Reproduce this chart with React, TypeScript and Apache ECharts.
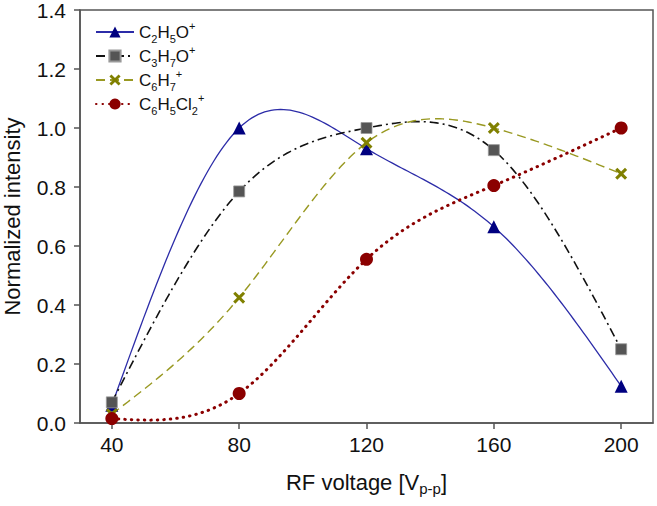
import React, { useEffect, useRef } from "react";
import * as echarts from "echarts";

const voltages = [40, 80, 120, 160, 200];
const c2h5o = [0.06, 1.0, 0.93, 0.665, 0.125];
const c3h7o = [0.07, 0.785, 1.0, 0.925, 0.25];
const c6h7 = [0.03, 0.425, 0.95, 1.0, 0.845];
const c6h5cl2 = [0.015, 0.1, 0.555, 0.805, 1.0];
const xTicks = [40, 80, 120, 160, 200];

const names = ["C2H5O+", "C3H7O+", "C6H7+", "C6H5Cl2+"];
const richNames: Record<string, string> = {
  "C2H5O+": "{n|C}{s|2}{n|H}{s|5}{n|O}{p|+}",
  "C3H7O+": "{n|C}{s|3}{n|H}{s|7}{n|O}{p|+}",
  "C6H7+": "{n|C}{s|6}{n|H}{s|7}{p|+}",
  "C6H5Cl2+": "{n|C}{s|6}{n|H}{s|5}{n|Cl}{s|2}{p|+}",
};

const FONT = "'Liberation Sans', Arial, sans-serif";
const X_SYMBOL =
  "path://M1.8,0 L5,3.2 L8.2,0 L10,1.8 L6.8,5 L10,8.2 L8.2,10 L5,6.8 L1.8,10 L0,8.2 L3.2,5 L0,1.8 Z";

const pairs = (ys: number[]) => voltages.map((v, i) => [v, ys[i]]);

// natural cubic spline second derivatives
function splineM(xs: number[], ys: number[]) {
  const n = xs.length;
  const m = new Array(n).fill(0);
  if (n < 3) return m;
  const a: number[] = [], b: number[] = [], c: number[] = [], d: number[] = [];
  for (let i = 1; i < n - 1; i++) {
    const h0 = xs[i] - xs[i - 1];
    const h1 = xs[i + 1] - xs[i];
    a.push(h0);
    b.push(2 * (h0 + h1));
    c.push(h1);
    d.push(6 * ((ys[i + 1] - ys[i]) / h1 - (ys[i] - ys[i - 1]) / h0));
  }
  const k = b.length;
  for (let i = 1; i < k; i++) {
    const w = a[i] / b[i - 1];
    b[i] -= w * c[i - 1];
    d[i] -= w * d[i - 1];
  }
  const sol = new Array(k).fill(0);
  sol[k - 1] = d[k - 1] / b[k - 1];
  for (let i = k - 2; i >= 0; i--) sol[i] = (d[i] - c[i] * sol[i + 1]) / b[i];
  for (let i = 0; i < k; i++) m[i + 1] = sol[i];
  return m;
}

function splineCurve(xs: number[], ys: number[], steps: number) {
  const m = splineM(xs, ys);
  const out: number[][] = [];
  for (let i = 0; i < xs.length - 1; i++) {
    const h = xs[i + 1] - xs[i];
    for (let s = 0; s <= steps; s++) {
      if (i > 0 && s === 0) continue;
      const x = xs[i] + (h * s) / steps;
      const A = (xs[i + 1] - x) / h;
      const B = (x - xs[i]) / h;
      const y =
        A * ys[i] +
        B * ys[i + 1] +
        ((A * A * A - A) * m[i] + (B * B * B - B) * m[i + 1]) * (h * h) / 6;
      out.push([x, y]);
    }
  }
  return out;
}

const curveSeries = (ys: number[], style: any) => ({
  type: "custom",
  name: "_curve",
  data: pairs(ys),
  z: 1,
  silent: true,
  clip: true,
  encode: { x: 0, y: 1 },
  renderItem: (params: any, api: any) => {
    if (params.dataIndex !== 0) return null;
    const pts = splineCurve(voltages, ys, 40).map((p) => api.coord(p));
    return {
      type: "polyline",
      shape: { points: pts },
      style: { fill: null, ...style },
    };
  },
});

export default function App() {
  const ref = useRef<HTMLDivElement>(null);
  useEffect(() => {
    if (!ref.current) return;
    const chart = echarts.init(ref.current, null, { renderer: "svg" });
    const rich = {
      n: { fontSize: 17, lineHeight: 24, fontFamily: FONT, color: "#111" },
      s: { fontSize: 11, lineHeight: 11, verticalAlign: "bottom", fontFamily: FONT, color: "#111" },
      p: { fontSize: 11, lineHeight: 11, verticalAlign: "top", fontFamily: FONT, color: "#111" },
    };
    const axisColor = "#555";
    chart.setOption({
      animation: false,
      backgroundColor: "#fff",
      textStyle: { fontFamily: FONT },
      grid: {
        left: 80,
        right: 4,
        top: 10,
        bottom: 83,
        show: true,
        borderColor: axisColor,
        borderWidth: 1.5,
        backgroundColor: "transparent",
        containLabel: false,
        outerBoundsMode: "none",
      },
      legend: {
        orient: "vertical",
        left: 90,
        top: 15,
        itemWidth: 38,
        itemHeight: 14,
        itemGap: 0,
        data: names,
        lineStyle: { opacity: 1 },
        formatter: (name: string) => richNames[name] || name,
        textStyle: { rich, fontSize: 17, color: "#111" },
      },
      xAxis: {
        type: "value",
        min: 30,
        max: 210,
        name: "{n|RF voltage [V}{s|p-p}{n|]}",
        nameLocation: "middle",
        nameGap: 45,
        nameTextStyle: {
          rich: {
            n: { fontSize: 22, lineHeight: 28, fontFamily: FONT, color: "#111" },
            s: { fontSize: 15, lineHeight: 15, verticalAlign: "bottom", fontFamily: FONT, color: "#111" },
          },
        },
        axisLine: { show: true, lineStyle: { color: axisColor, width: 1.5 } },
        axisTick: {
          show: true,
          inside: false,
          length: 6,
          customValues: xTicks,
          lineStyle: { color: axisColor, width: 1.5 },
        },
        axisLabel: {
          customValues: xTicks,
          fontSize: 21,
          color: "#111",
          margin: 11,
          fontFamily: FONT,
        },
        splitLine: { show: false },
      },
      yAxis: {
        type: "value",
        min: 0,
        max: 1.4,
        interval: 0.2,
        name: "Normalized intensity",
        nameLocation: "middle",
        nameGap: 57,
        nameTextStyle: { fontSize: 22, color: "#111", fontFamily: FONT },
        axisLine: { show: true, lineStyle: { color: axisColor, width: 1.5 } },
        axisTick: { show: true, inside: false, length: 6, lineStyle: { color: axisColor, width: 1.5 } },
        axisLabel: {
          fontSize: 21,
          color: "#111",
          margin: 14,
          fontFamily: FONT,
          formatter: (v: number) => v.toFixed(1),
        },
        splitLine: { show: false },
      },
      series: [
        curveSeries(c2h5o, { stroke: "#2c2ca8", lineWidth: 1.3 }),
        curveSeries(c3h7o, { stroke: "#111", lineWidth: 1.6, lineDash: [9, 4, 2, 4] }),
        curveSeries(c6h7, { stroke: "#999922", lineWidth: 1.4, lineDash: [9, 5] }),
        curveSeries(c6h5cl2, { stroke: "#8b0000", lineWidth: 3, lineDash: [0.5, 6], lineCap: "round" }),
        {
          name: names[0],
          type: "line",
          data: pairs(c2h5o),
          z: 3,
          symbol: "triangle",
          symbolSize: 13,
          itemStyle: { color: "#000080" },
          lineStyle: { color: "#2c2ca8", width: 1.3, type: "solid", opacity: 0 },
        },
        {
          name: names[1],
          type: "line",
          data: pairs(c3h7o),
          z: 3,
          symbol: "rect",
          symbolSize: 11,
          itemStyle: { color: "#555555", borderColor: "#999", borderWidth: 0.8 },
          lineStyle: { color: "#111", width: 1.6, type: [9, 4, 2, 4], opacity: 0 },
        },
        {
          name: names[2],
          type: "line",
          data: pairs(c6h7),
          z: 3,
          symbol: X_SYMBOL,
          symbolSize: 12,
          itemStyle: { color: "#808000" },
          lineStyle: { color: "#999922", width: 1.4, type: [9, 5], opacity: 0 },
        },
        {
          name: names[3],
          type: "line",
          data: pairs(c6h5cl2),
          z: 3,
          symbol: "circle",
          symbolSize: 13,
          itemStyle: { color: "#8b0000" },
          lineStyle: { color: "#8b0000", width: 3, type: [0.5, 6], cap: "round", opacity: 0 },
        },
      ],
    });
    return () => chart.dispose();
  }, []);
  return (
    <div
      ref={ref}
      style={{ position: "absolute", left: 0, top: 0, width: 657, height: 506 }}
    />
  );
}
